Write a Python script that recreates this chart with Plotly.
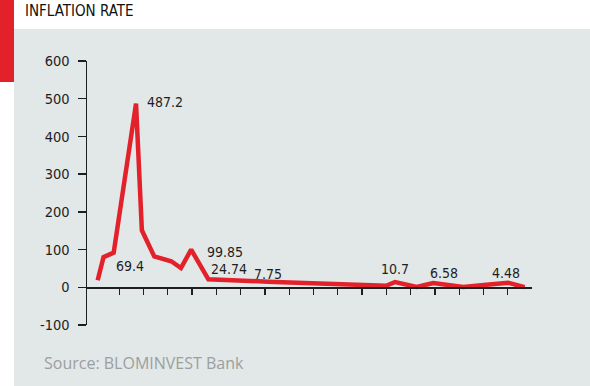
import plotly.graph_objects as go

# ---- data (x in tick-interval units, ticks at 0..16) ----
x_pos = [-0.89, -0.65, -0.23, 0.69, 0.93, 1.44, 2.14, 2.54, 2.96, 3.67,
         6.12, 8.68, 10.33, 10.99, 11.36, 12.25, 12.93, 14.17, 15.13, 16.02, 16.7]
inflation = [18.6, 80, 92, 487.2, 151, 82, 69, 51, 99.85, 21,
             15, 9, 5, 4, 14, 1, 11.5, 0.5, 7, 12, 0.5]
label_text = ["487.2", "69.4", "99.85", "24.74", "7.75", "10.7", "6.58", "4.48"]
label_idx = [3, 2, 8, 9, 10, 14, 16, 19]
y_ticks = [-100, 0, 100, 200, 300, 400, 500, 600]
y_tick_text = ["-100", "0", "100", "200", "300", "400", "500", "600"]
x_ticks = list(range(0, 17))
title_text = "INFLATION RATE"
source_text = "Source: BLOMINVEST Bank"

# ---- layout geometry ----
W, H = 590, 386
L, R, T, B = 87, 58, 61, 61
PW, PH = W - L - R, H - T - B
YMIN, YMAX = -100, 600
XMIN, XMAX = -1.33, 17.0

def px(xp):
    return (xp - L) / PW

def py(yp):
    return (H - B - yp) / PH

RED = "#e3212b"
GRAY_BG = "#e2e7e7"
AXIS = "#1e1e1e"
NARROW = "DejaVu Sans Condensed, Liberation Sans Narrow, Roboto, sans-serif"

fig = go.Figure()
fig.add_trace(go.Scatter(
    x=x_pos, y=inflation, mode="lines",
    line=dict(color=RED, width=4.5), hoverinfo="skip", showlegend=False,
))

# label offsets (pixels relative to the anchor point)
offsets = [
    (9, 2, "left"),     # 487.2
    (0, -13, "left"),   # 69.4
    (14, -2, "left"),   # 99.85
    (1, 10, "left"),    # 24.74
    (0, 8, "center"),   # 7.75
    (0, 13, "center"),  # 10.7
    (11, 10, "center"), # 6.58
    (-2, 10, "center"), # 4.48
]
annotations = []
for txt, idx, (dx, dy, xa) in zip(label_text, label_idx, offsets):
    annotations.append(dict(
        x=x_pos[idx], y=inflation[idx], xref="x", yref="y", text=txt,
        showarrow=False, xanchor=xa, yanchor="middle", xshift=dx, yshift=dy,
        font=dict(family=NARROW, size=14, color=AXIS),
    ))

annotations.append(dict(
    x=px(23), y=py(11), xref="paper", yref="paper", text=title_text,
    showarrow=False, xanchor="left", yanchor="middle",
    font=dict(family=NARROW, size=15, color="#111111"),
))
annotations.append(dict(
    x=px(42), y=py(363), xref="paper", yref="paper", text=source_text,
    showarrow=False, xanchor="left", yanchor="middle",
    font=dict(family="Open Sans, sans-serif", size=16, color="#9b9fa0"),
))

shapes = [
    dict(type="rect", xref="paper", yref="paper", x0=px(14), x1=px(590),
         y0=py(386), y1=py(29), fillcolor=GRAY_BG, line=dict(width=0), layer="below"),
    dict(type="rect", xref="paper", yref="paper", x0=px(0), x1=px(14),
         y0=py(82), y1=py(0), fillcolor=RED, line=dict(width=0), layer="below"),
]

fig.update_layout(
    width=W, height=H,
    margin=dict(l=L, r=R, t=T, b=B, pad=0),
    paper_bgcolor="white", plot_bgcolor="rgba(0,0,0,0)",
    showlegend=False,
    annotations=annotations, shapes=shapes,
    xaxis=dict(
        range=[XMIN, XMAX], showgrid=False, zeroline=False,
        showline=True, linecolor=AXIS, linewidth=1.5,
        ticks="outside", ticklen=6, tickwidth=1.3, tickcolor=AXIS,
        tickvals=x_ticks, showticklabels=False,
        anchor="free", position=(0 - YMIN) / (YMAX - YMIN),
    ),
    yaxis=dict(
        range=[YMIN, YMAX], showgrid=False, zeroline=False,
        showline=True, linecolor=AXIS, linewidth=1.5,
        ticks="outside", ticklen=8, tickwidth=1.3, tickcolor=AXIS,
        tickvals=y_ticks, ticktext=y_tick_text, ticklabelstandoff=5,
        tickfont=dict(family=NARROW, size=14.5, color=AXIS),
    ),
)

fig.write_html(
    "out.html",
    config={"displayModeBar": False, "staticPlot": True},
    post_script="document.body.style.margin='0';document.body.style.overflow='hidden';",
)
